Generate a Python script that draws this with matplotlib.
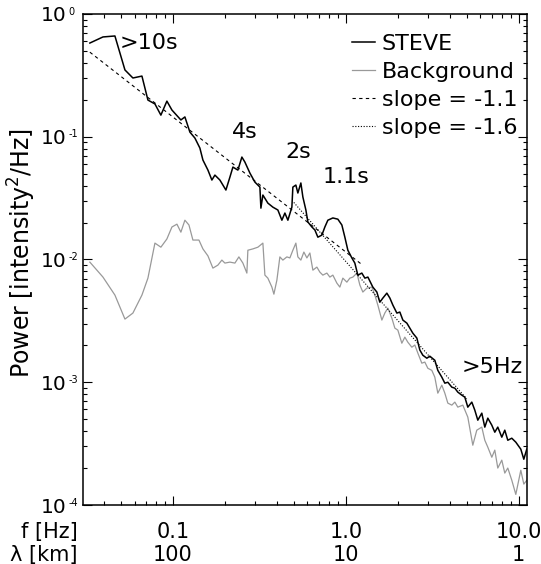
import numpy as np
import matplotlib.pyplot as plt
import matplotlib.transforms as mtransforms
from matplotlib.ticker import LogLocator, NullFormatter

# power spectra
freq_steve = [0.0331, 0.0394, 0.0462, 0.0528, 0.0587, 0.0662, 0.0717, 0.0787, 0.0852, 0.0923,
              0.0987, 0.1112, 0.1173, 0.1254, 0.1340, 0.1432, 0.1491, 0.1594, 0.1680, 0.1749,
              0.1869, 0.2025, 0.2136, 0.2223, 0.2375, 0.2505, 0.2607, 0.2787, 0.2979, 0.3184,
              0.3227, 0.3313, 0.3540, 0.3784, 0.4045, 0.4267, 0.4441, 0.4621, 0.4874, 0.4939,
              0.5140, 0.5278, 0.5494, 0.5642, 0.5873, 0.6031, 0.6362, 0.6620, 0.6890, 0.7266,
              0.7562, 0.7870, 0.8411, 0.8990, 0.9482, 0.9868, 1.027, 1.083, 1.127, 1.173,
              1.237, 1.288, 1.341, 1.432, 1.511, 1.572, 1.637, 1.726, 1.797, 1.870,
              1.972, 2.052, 2.136, 2.253, 2.344, 2.440, 2.573, 2.678, 2.787, 2.939,
              3.059, 3.269, 3.402, 3.588, 3.735, 3.887, 4.100, 4.267, 4.440, 4.683,
              4.874, 5.072, 5.349, 5.568, 5.794, 6.111, 6.360, 6.619, 6.981, 7.265,
              7.560, 7.974, 8.298, 8.637, 9.110, 9.609, 10.27, 10.69, 11.12]
power_steve = [0.580, 0.650, 0.662, 0.350, 0.301, 0.312, 0.199, 0.185, 0.150, 0.195,
               0.165, 0.137, 0.145, 0.109, 0.0976, 0.0809, 0.0646, 0.0535, 0.0444, 0.0487,
               0.0444, 0.0368, 0.0469, 0.0566, 0.0535, 0.0683, 0.0622, 0.0506, 0.0427, 0.0389,
               0.0262, 0.0335, 0.0288, 0.0267, 0.0253, 0.0209, 0.0239, 0.0209, 0.0267, 0.0389,
               0.0404, 0.0348, 0.0420, 0.0323, 0.0253, 0.0202, 0.0184, 0.0174, 0.0152, 0.0158,
               0.0184, 0.0209, 0.0218, 0.0213, 0.0191, 0.0152, 0.0119, 0.0103, 0.00935, 0.00746,
               0.00775, 0.00705, 0.00719, 0.00596, 0.00543, 0.00449, 0.00485, 0.00532, 0.00485, 0.00425,
               0.00366, 0.00373, 0.00321, 0.00303, 0.00276, 0.00251, 0.00229, 0.00183, 0.00166, 0.00157,
               0.00163, 0.00151, 0.00125, 0.00110, 0.000983, 0.00100, 0.000912, 0.000895, 0.000831, 0.000785,
               0.000756, 0.000627, 0.000689, 0.000592, 0.000491, 0.000560, 0.000431, 0.000510, 0.000447, 0.000392,
               0.000431, 0.000357, 0.000407, 0.000337, 0.000350, 0.000325, 0.000285, 0.000236, 0.000285]

freq_bg = [0.0331, 0.0394, 0.0462, 0.0528, 0.0587, 0.0662, 0.0717, 0.0787, 0.0852, 0.0923,
           0.0987, 0.1055, 0.1112, 0.1173, 0.1238, 0.1305, 0.1414, 0.1491, 0.1594, 0.1703,
           0.1820, 0.1919, 0.1998, 0.2136, 0.2283, 0.2407, 0.2539, 0.2677, 0.2713, 0.2901,
           0.3101, 0.3313, 0.3403, 0.3540, 0.3735, 0.3836, 0.3992, 0.4154, 0.4323, 0.4560,
           0.4746, 0.4939, 0.5140, 0.5278, 0.5494, 0.5718, 0.5952, 0.6194, 0.6446, 0.6799,
           0.7075, 0.7363, 0.7766, 0.8082, 0.8411, 0.8872, 0.9232, 0.9609, 1.0135, 1.0547,
           1.098, 1.158, 1.205, 1.254, 1.323, 1.414, 1.471, 1.531, 1.615, 1.680,
           1.749, 1.845, 1.920, 1.998, 2.107, 2.193, 2.282, 2.407, 2.505, 2.607,
           2.749, 2.861, 2.979, 3.141, 3.269, 3.402, 3.588, 3.735, 3.887, 4.100,
           4.267, 4.440, 4.746, 5.072, 5.421, 5.716, 6.111, 6.360, 6.619, 6.981,
           7.265, 7.560, 7.974, 8.298, 8.637, 9.110, 9.609, 10.27, 10.69, 11.12]
power_bg = [0.00952, 0.00719, 0.00513, 0.00327, 0.00366, 0.00513, 0.00705, 0.0136, 0.0126, 0.0147,
            0.0184, 0.0194, 0.0167, 0.0209, 0.0191, 0.0144, 0.0144, 0.0122, 0.0107, 0.00851,
            0.00900, 0.00989, 0.00935, 0.00952, 0.00935, 0.0105, 0.00935, 0.00775, 0.0119, 0.0122,
            0.0126, 0.0136, 0.00746, 0.00705, 0.00596, 0.00522, 0.00679, 0.0105, 0.00989, 0.0105,
            0.0103, 0.0119, 0.0136, 0.0105, 0.00989, 0.0115, 0.0103, 0.0113, 0.00819, 0.00867,
            0.00789, 0.00746, 0.00775, 0.00719, 0.00746, 0.00642, 0.00596, 0.00705, 0.00654, 0.00705,
            0.00719, 0.00775, 0.00619, 0.00543, 0.00585, 0.00596, 0.00513, 0.00425, 0.00321, 0.00366,
            0.00402, 0.00333, 0.00276, 0.00266, 0.00208, 0.00233, 0.00212, 0.00193, 0.00201, 0.00173,
            0.00143, 0.00146, 0.00130, 0.00125, 0.00110, 0.000815, 0.000947, 0.000815, 0.000676, 0.000651,
            0.000689, 0.000627, 0.000651, 0.000520, 0.000307, 0.000407, 0.000431, 0.000337, 0.000296, 0.000245,
            0.000280, 0.000200, 0.000232, 0.000182, 0.000200, 0.000159, 0.000122, 0.000192, 0.000148, 0.000159]

# power law fits: slope, amplitude at 1 Hz, frequency range
fit_slopes = [-1.1, -1.6]
fit_amps = [0.0115, 0.00962]
fit_ranges = [(0.0331, 1.25), (0.5, 5.0)]

xtick_f = [0.1, 1.0, 10.0]
xtick_f_labels = ['0.1', '1.0', '10.0']
xtick_lam_labels = ['100', '10', '1']
ytick_p = [1e-4, 1e-3, 1e-2, 1e-1, 1.0]
ytick_exp = ['-4', '-3', '-2', '-1', '0']

notes = ['>10s', '4s', '2s', '1.1s', '>5Hz']
note_x = [0.0494, 0.2607, 0.5278, 1.0, 4.67]
note_y = [0.584, 0.109, 0.075, 0.047, 0.00133]
note_ha = ['left', 'center', 'center', 'center', 'left']

plt.rcParams['font.family'] = 'DejaVu Sans'

fig = plt.figure(figsize=(5.41, 5.64), dpi=100)
ax = fig.add_axes([0.1543, 0.1046, 0.8204, 0.8706])

l_bg, = ax.plot(freq_bg, power_bg, color='0.6', lw=0.9)
l_st, = ax.plot(freq_steve, power_steve, color='black', lw=1.1)

fit_lines = []
styles = [(0, (3, 3)), (0, (1, 1.5))]
for s, a, (f0, f1), ls in zip(fit_slopes, fit_amps, fit_ranges, styles):
    ff = np.array([f0, f1])
    ln, = ax.plot(ff, a * ff ** s, color='black', lw=0.8, linestyle=ls)
    fit_lines.append(ln)

ax.set_xscale('log')
ax.set_yscale('log')
ax.set_xlim(0.0304, 11.2)
ax.set_ylim(1e-4, 1)

ax.set_xticks(xtick_f)
ax.set_xticklabels([])
ax.xaxis.set_minor_locator(LogLocator(subs=np.arange(2, 10)))
ax.xaxis.set_minor_formatter(NullFormatter())
ax.set_yticks(ytick_p)
ax.set_yticklabels(['10'] * len(ytick_p))
ax.yaxis.set_minor_locator(LogLocator(subs=np.arange(2, 10)))
ax.yaxis.set_minor_formatter(NullFormatter())

ax.tick_params(which='both', direction='in', top=True, right=True, width=0.8)
ax.tick_params(which='major', length=6.5)
ax.tick_params(which='minor', length=3)
ax.tick_params(axis='y', labelsize=14.5, pad=11.9)
for sp in ax.spines.values():
    sp.set_linewidth(1.1)

# small exponents next to the "10" labels
ytrans = mtransforms.blended_transform_factory(ax.transAxes, ax.transData)
up = mtransforms.ScaledTranslation(0, 0.073, fig.dpi_scale_trans)
for p, e in zip(ytick_p, ytick_exp):
    ax.text(-0.0338, p, e, transform=ytrans + up, ha='left', va='top', fontsize=7)

# two rows of x labels
trans = mtransforms.blended_transform_factory(ax.transData, ax.transAxes)
for f, lf, ll in zip(xtick_f, xtick_f_labels, xtick_lam_labels):
    ax.text(f, -0.0672, lf, transform=trans, ha='center', va='baseline', fontsize=15)
    ax.text(f, -0.114, ll, transform=trans, ha='center', va='baseline', fontsize=15)
ax.text(-0.0124, -0.0672, 'f [Hz]', transform=ax.transAxes, ha='right', va='baseline', fontsize=15)
ax.text(-0.0124, -0.114, 'λ [km]', transform=ax.transAxes, ha='right', va='baseline', fontsize=15)

fig.text(22 / 541, 1 - 253 / 564, 'Power [intensity$^2$/Hz]', rotation=90,
         ha='center', va='center', fontsize=17)

for t, x, y, h in zip(notes, note_x, note_y, note_ha):
    ax.text(x, y, t, ha=h, va='center', fontsize=16)

ax.legend([l_st, l_bg] + fit_lines,
          ['STEVE', 'Background', 'slope = -1.1', 'slope = -1.6'],
          loc='upper right', bbox_to_anchor=(0.977, 0.959), frameon=False,
          borderaxespad=0, borderpad=0, handlelength=1.05, handletextpad=0.3,
          labelspacing=0.36, fontsize=16)

fig.savefig('out.png', dpi=100)
